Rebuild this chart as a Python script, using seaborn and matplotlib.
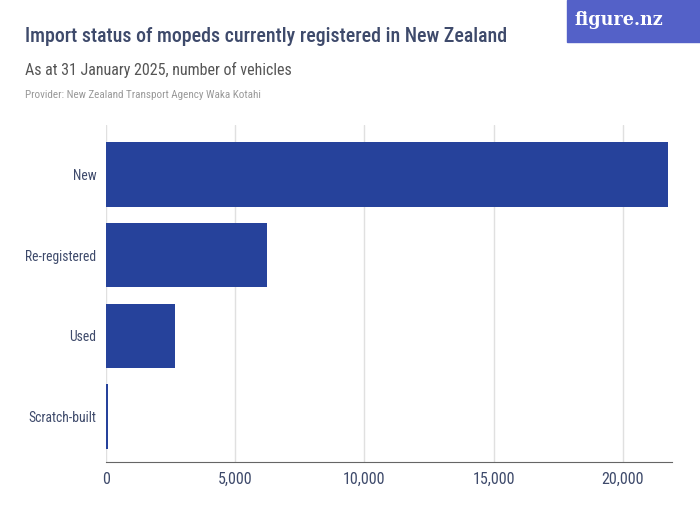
import matplotlib
matplotlib.use('Agg')
import matplotlib.pyplot as plt
import matplotlib.patches as mpatches
import seaborn as sns
import pandas as pd

categories = ['New', 'Re-registered', 'Used', 'Scratch-built']
values = [21750, 6240, 2660, 60]
x_ticks = [0, 5000, 10000, 15000, 20000]

df = pd.DataFrame({'Status': categories, 'Vehicles': values})

sns.set_style('white')
plt.rcParams['font.family'] = ['Roboto Condensed', 'Roboto', 'DejaVu Sans']

text_col = '#3e4a6b'
bar_col = '#26429b'

fig = plt.figure(figsize=(7, 5.25), dpi=100)
ax = fig.add_axes([106/700, 1 - 462/525, (672-106)/700, (462-125)/525])

sns.barplot(data=df, x='Vehicles', y='Status', color=bar_col, width=0.8,
            saturation=1, linewidth=0, ax=ax, zorder=3)

ax.set_xlim(0, 21900)
ax.set_ylim(3.56, -0.61)
ax.set_xticks(x_ticks)
ax.set_xticklabels([f'{v:,}' for v in x_ticks])
ax.grid(axis='x', color='#e0e0e0', linewidth=1, zorder=0)
ax.set_xlabel('')
ax.set_ylabel('')
for s in ['top', 'right', 'left']:
    ax.spines[s].set_visible(False)
ax.spines['bottom'].set_color('#666666')
ax.tick_params(axis='x', colors='#666666', length=4, width=1, labelcolor=text_col,
               labelsize=11.5, pad=3)
ax.tick_params(axis='y', length=0, labelcolor=text_col, labelsize=9.8, pad=7)

fig.text(25/700, 1 - 36/525, 'Import status of mopeds currently registered in New Zealand',
         fontsize=14.3, color=text_col, fontweight='medium', va='center')
fig.text(25/700, 1 - 70/525, 'As at 31 January 2025, number of vehicles',
         fontsize=11.5, color='#555555', va='center')
fig.text(25/700, 1 - 95/525, 'Provider: New Zealand Transport Agency Waka Kotahi',
         fontsize=8, color='#999999', va='center')

fig.patches.append(mpatches.Rectangle((567/700, 1 - 42/525), 133/700, 42/525,
                                      transform=fig.transFigure, color='#5461c8',
                                      zorder=5))
fig.text(619/700, 1 - 20/525, 'figure.nz', fontsize=14, color='white',
         family=['DejaVu Serif'], fontstretch='condensed', fontweight='bold',
         ha='center', va='center', zorder=6)

fig.savefig('out.png', dpi=100)
